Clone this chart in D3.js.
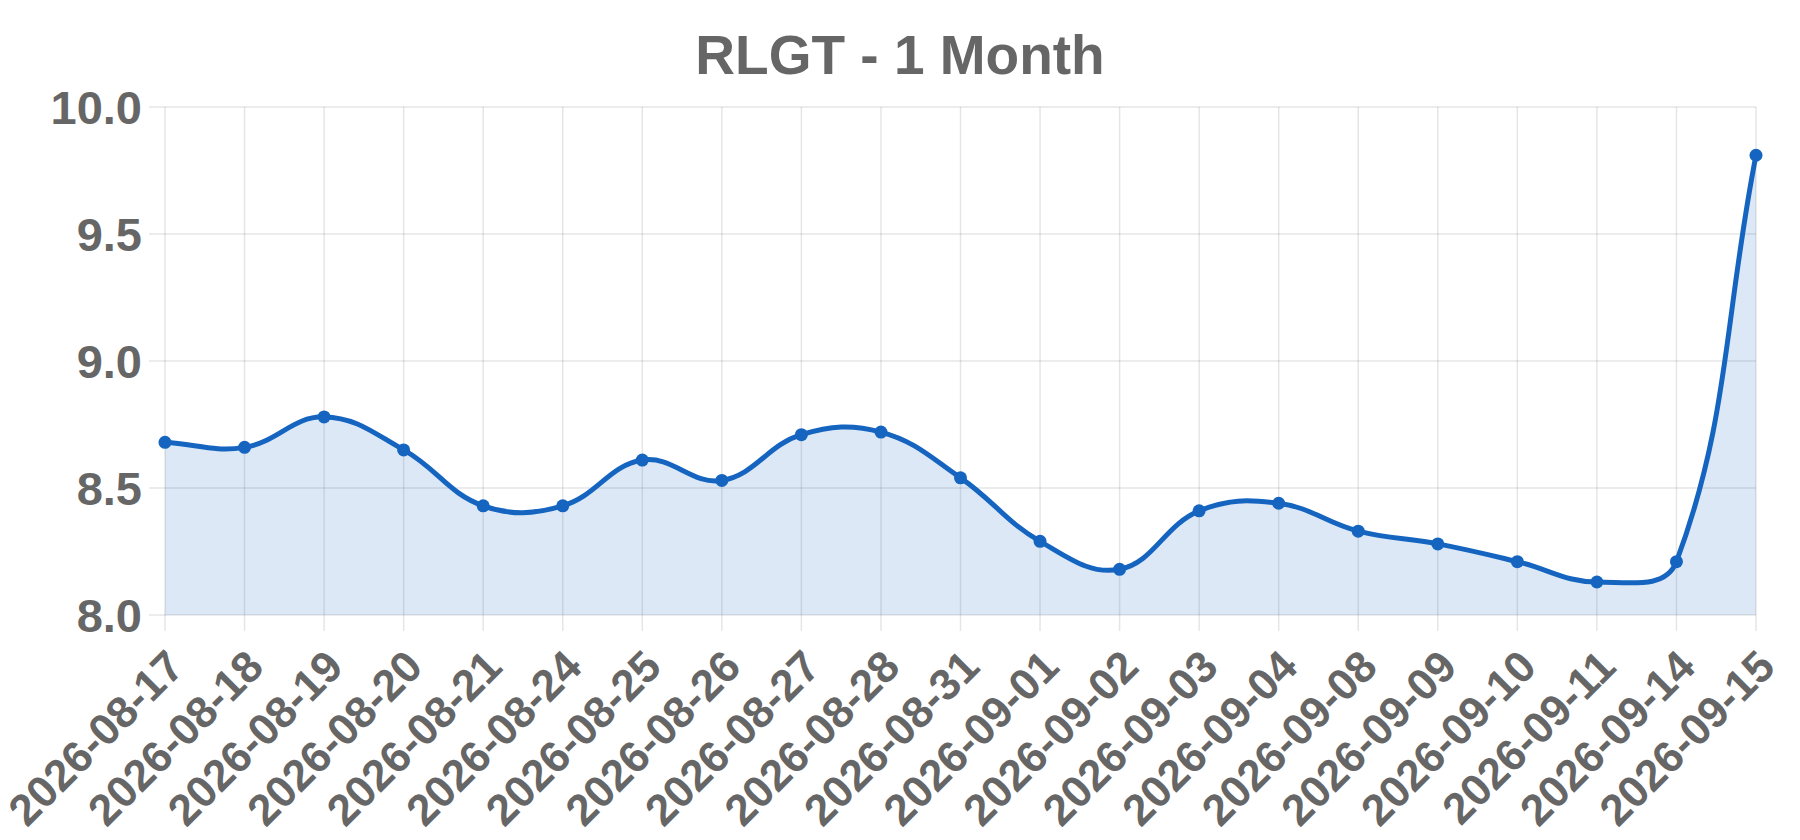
<!DOCTYPE html>
<html lang="en">
<head>
  <meta charset="UTF-8">
  <title>RLGT - 1 Month</title>
  <style>
    body { margin: 0; background: #fff; }
    svg { display: block; font-family: "Liberation Sans", Arial, sans-serif; }
  </style>
</head>
<body>
<div class="chart"></div>
<script src="https://d3js.org/d3.v7.min.js"></script>
<script>
  // data
  let dates = ['2026-08-17', '2026-08-18', '2026-08-19', '2026-08-20', '2026-08-21', '2026-08-24',
    '2026-08-25', '2026-08-26', '2026-08-27', '2026-08-28', '2026-08-31', '2026-09-01', '2026-09-02',
    '2026-09-03', '2026-09-04', '2026-09-08', '2026-09-09', '2026-09-10', '2026-09-11', '2026-09-14',
    '2026-09-15']
  let prices = [8.68, 8.66, 8.78, 8.65, 8.43, 8.43, 8.61, 8.53, 8.71, 8.72, 8.54, 8.29, 8.18,
    8.41, 8.44, 8.33, 8.28, 8.21, 8.13, 8.21, 9.81]
  let yTicks = [8.0, 8.5, 9.0, 9.5, 10.0]
  let title = 'RLGT - 1 Month'

  let W = 1800, H = 840
  let m = {left: 165, right: 44, top: 107, bottom: 225}
  let textColor = '#666'
  let lineColor = '#1565c0'

  let svg = d3.select('.chart').append('svg')
    .attr('width', W)
    .attr('height', H)

  let x = d3.scalePoint()
    .domain(dates)
    .range([m.left, W - m.right])

  let y = d3.scaleLinear()
    .domain([8, 10])
    .range([H - m.bottom, m.top])

  // grid
  let grid = svg.append('g').attr('stroke', 'rgba(0,0,0,0.1)').attr('stroke-width', 1.5)
  grid.selectAll('.hg')
    .data(yTicks)
    .enter()
    .append('line')
    .attr('x1', m.left - 16)
    .attr('x2', W - m.right)
    .attr('y1', d => y(d))
    .attr('y2', d => y(d))
  grid.selectAll('.vg')
    .data(dates)
    .enter()
    .append('line')
    .attr('x1', d => x(d))
    .attr('x2', d => x(d))
    .attr('y1', m.top)
    .attr('y2', H - m.bottom + 16)

  // y labels
  svg.append('g').selectAll('text')
    .data(yTicks)
    .enter()
    .append('text')
    .attr('x', m.left - 23)
    .attr('y', d => y(d))
    .attr('dy', '0.36em')
    .attr('text-anchor', 'end')
    .attr('fill', textColor)
    .attr('font-size', '47px')
    .attr('font-weight', 'bold')
    .text(d => d.toFixed(1))

  // x labels, rotated
  svg.append('g').selectAll('text')
    .data(dates)
    .enter()
    .append('text')
    .attr('transform', d => 'translate(' + (x(d) + 10) + ',' + (H - m.bottom + 43) + ') rotate(-45)')
    .attr('dy', '0.36em')
    .attr('text-anchor', 'end')
    .attr('fill', textColor)
    .attr('font-size', '44px')
    .attr('font-weight', 'bold')
    .text(d => d)

  // Chart.js-like spline (tension 0.4)
  let pts = dates.map((d, i) => ({x: x(d), y: y(prices[i])}))
  let tension = 0.4
  let cps = pts.map((p, i) => {
    let prev = pts[i - 1] || p
    let next = pts[i + 1] || p
    let d01 = Math.hypot(p.x - prev.x, p.y - prev.y)
    let d12 = Math.hypot(next.x - p.x, next.y - p.y)
    let s01 = d01 / (d01 + d12) || 0
    let s12 = d12 / (d01 + d12) || 0
    let fa = tension * s01, fb = tension * s12
    let clampX = v => Math.max(m.left, Math.min(W - m.right, v))
    let clampY = v => Math.max(m.top, Math.min(H - m.bottom, v))
    return {
      px: clampX(p.x - fa * (next.x - prev.x)), py: clampY(p.y - fa * (next.y - prev.y)),
      nx: clampX(p.x + fb * (next.x - prev.x)), ny: clampY(p.y + fb * (next.y - prev.y))
    }
  })
  let linePath = 'M' + pts[0].x + ',' + pts[0].y
  for (let i = 1; i < pts.length; i++) {
    linePath += 'C' + cps[i - 1].nx + ',' + cps[i - 1].ny + ' ' + cps[i].px + ',' + cps[i].py + ' ' + pts[i].x + ',' + pts[i].y
  }
  let areaPath = linePath + 'L' + pts[pts.length - 1].x + ',' + y(8) + 'L' + pts[0].x + ',' + y(8) + 'Z'

  svg.append('path')
    .attr('d', areaPath)
    .attr('fill', 'rgba(21,101,192,0.15)')

  svg.append('path')
    .attr('d', linePath)
    .attr('fill', 'none')
    .attr('stroke', lineColor)
    .attr('stroke-width', 5)

  svg.append('g').selectAll('circle')
    .data(pts)
    .enter()
    .append('circle')
    .attr('cx', d => d.x)
    .attr('cy', d => d.y)
    .attr('r', 6.5)
    .attr('fill', lineColor)

  // title
  svg.append('text')
    .attr('x', 900)
    .attr('y', 74)
    .attr('text-anchor', 'middle')
    .attr('fill', textColor)
    .attr('font-size', '55px')
    .attr('font-weight', 'bold')
    .text(title)
</script>
</body>
</html>
